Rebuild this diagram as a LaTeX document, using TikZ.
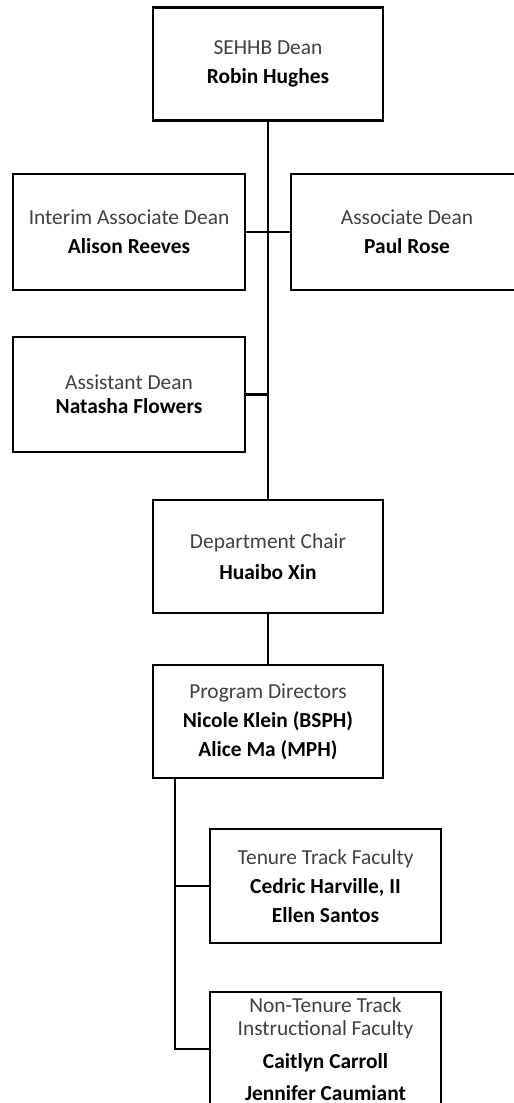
\documentclass[tikz,border=0pt]{standalone}
\usepackage{fontspec}
\setmainfont{Carlito}
\usetikzlibrary{calc}
\definecolor{titlegray}{RGB}{64,64,64}
\newcommand{\role}[1]{{\color{titlegray}#1}}
\newcommand{\who}[1]{\textbf{#1}}

\begin{document}
\begin{tikzpicture}[x=0.5pt, y=-0.5pt, line width=1.2pt,
    every node/.style={font=\fontsize{10.7}{14.5}\selectfont},
    staffbox/.style={draw, inner sep=0pt, align=center, minimum width=115pt, minimum height=56.5pt}]
    \useasboundingbox (0,0) rectangle (514,1103);
    \clip (0,0) rectangle (514,1103);

    % Deans
    \node [staffbox] (dean) at (268,64) {\role{SEHHB Dean}\\ \who{Robin Hughes}};
    \node [staffbox, minimum width=116pt, minimum height=58pt] (interim) at (129,232) {\role{Interim Associate Dean}\\ \who{Alison Reeves}};
    \node [staffbox, minimum width=116pt, minimum height=58pt] (assoc) at (407,232) {\role{Associate Dean}\\ \who{Paul Rose}};
    \node [staffbox, minimum width=116pt, minimum height=57.5pt, font=\fontsize{10.7}{12}\selectfont] (asst) at (129,394.5) {\role{Assistant Dean}\\ \who{Natasha Flowers}};

    % Department
    \node [staffbox] (chair) at (268,556.5) {\role{Department Chair}\\[1pt] \who{Huaibo Xin}};
    \node [staffbox] (prog) at (268,721.5) {\role{Program Directors}\\ \who{Nicole Klein (BSPH)}\\ \who{Alice Ma (MPH)}};

    % Faculty
    \node [staffbox, minimum width=115.5pt, minimum height=57pt] (tenure) at (325.5,886) {\role{Tenure Track Faculty}\\ \who{Cedric Harville, II}\\ \who{Ellen Santos}};
    \node [staffbox, minimum width=115.5pt, minimum height=57pt, font=\fontsize{10.7}{11.5}\selectfont] (nontenure) at (325.5,1049) {\role{Non-Tenure Track}\\ \role{Instructional Faculty}\\[5pt] \who{Caitlyn Carroll}\\[4.5pt] \who{Jennifer Caumiant}};

    % Lines
    \draw (dean.south) -- (chair.north);
    \draw (interim.east) -- (assoc.west);
    \draw (asst.east) -- (asst.east -| dean.south);
    \draw (chair.south) -- (prog.north);
    \coordinate (spine) at ($(prog.south west)+(23,0)$);
    \draw (spine) |- (tenure.west);
    \draw (spine) |- (nontenure.west);
\end{tikzpicture}
\end{document}
